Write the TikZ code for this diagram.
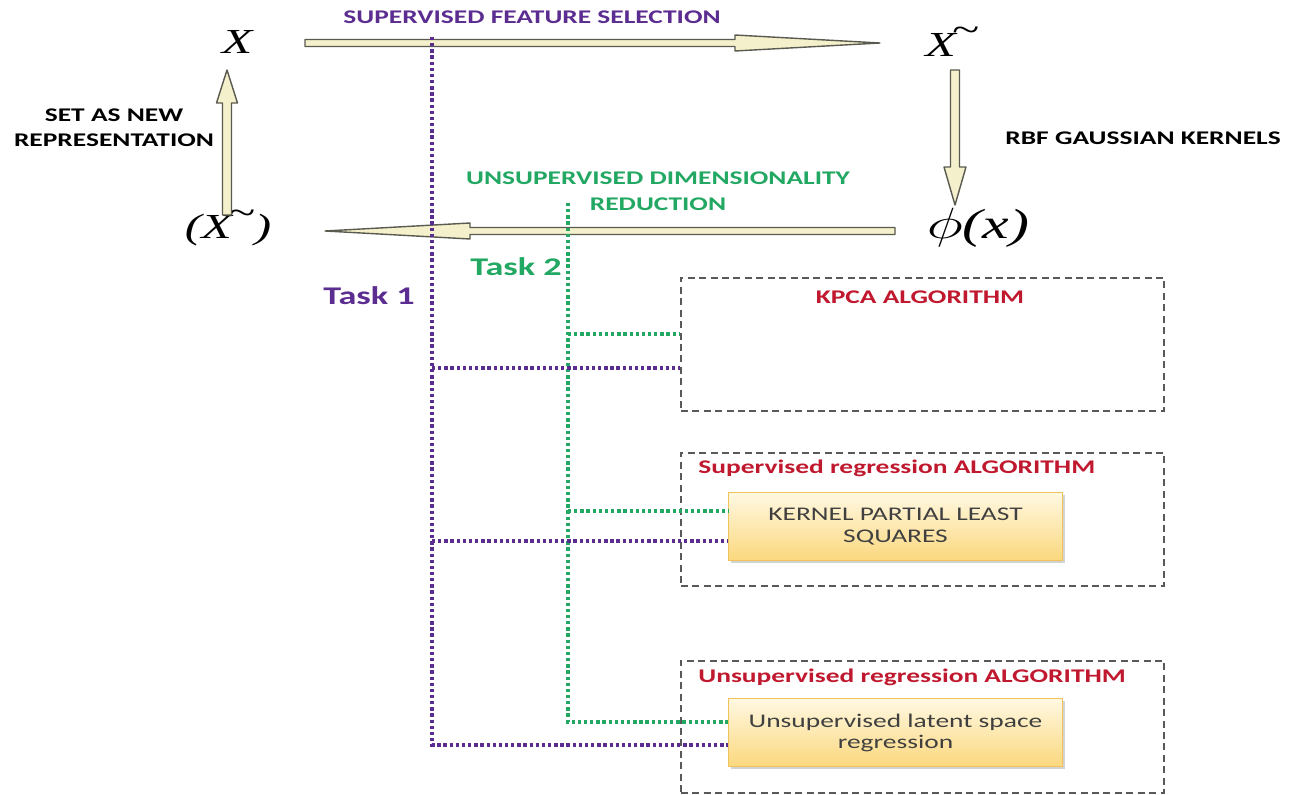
\documentclass[tikz,border=0pt]{standalone}
\usepackage{graphicx}
\usepackage{fontspec}
\setmainfont[FakeStretch=1.42]{Carlito}
\newfontfamily\tms[FakeStretch=1.42]{Liberation Serif}
\usetikzlibrary{calc,positioning,shadows}

\definecolor{purp}{HTML}{5C2D91}
\definecolor{grn}{HTML}{22A862}
\definecolor{drkred}{HTML}{C0182E}
\definecolor{cream}{HTML}{F4F0CB}
\definecolor{arrline}{HTML}{5A5A50}
\definecolor{boxtop}{HTML}{FFF8E2}
\definecolor{boxbot}{HTML}{FBD87E}
\definecolor{boxline}{HTML}{EFC35A}

\newcommand\tl{\kern-0.12em\raisebox{0.42em}{\char"007E}}

\tikzset{
  fatarr/.style={draw=arrline, fill=cream, line width=0.8pt, line join=round},
  sym/.style={font=\tms\itshape\fontsize{20}{22}\selectfont, inner sep=0pt},
  lbl/.style={font=\bfseries\fontsize{11}{13}\selectfont, align=center, inner sep=0pt},
  tasklbl/.style={font=\bfseries\fontsize{14.5}{17}\selectfont, inner sep=0pt},
  task1/.style={draw=purp, line width=2pt, dash pattern=on 1.9pt off 1.6pt},
  task2/.style={draw=grn, line width=2pt, dash pattern=on 1.9pt off 1.6pt},
  algbox/.style={draw=black!65, line width=1pt, dash pattern=on 4pt off 2.5pt,
    minimum width=9.66cm, minimum height=2.66cm, anchor=north west, inner sep=0pt},
  algtitle/.style={font=\bfseries\fontsize{11}{13}\selectfont, text=drkred, inner sep=0pt},
  methbox/.style={draw=boxline, line width=0.6pt, top color=boxtop, bottom color=boxbot,
    drop shadow={shadow xshift=1.5pt, shadow yshift=-1.5pt, opacity=0.35},
    minimum width=6.68cm, minimum height=1.36cm, anchor=north west, align=center,
    text=black!75, font=\fontsize{11}{12}\selectfont}
}

% fat arrow: from, to, head length, shaft half width, head half width
\newcommand\fatarrow[5]{%
  \coordinate (neck) at ($(#2)!#3!(#1)$);
  \draw[fatarr] ($(#1)!#4!90:(#2)$) -- ($(neck)!#4!90:(#2)$) -- ($(neck)!#5!90:(#2)$)
    -- (#2) -- ($(neck)!#5!-90:(#2)$) -- ($(neck)!#4!-90:(#2)$) -- ($(#1)!#4!-90:(#2)$) -- cycle;}

\begin{document}
\begin{tikzpicture}[x=0.02cm, y=0.02cm]
  \useasboundingbox (0,0) rectangle (1297,-794);

  % Symbols
  \node[sym] (xin) at (237,-42) {X};
  \node[sym] (xtil) at (952,-42) {X\tl};
  \node[sym, font=\tms\itshape\fontsize{24}{26}\selectfont] (phi) at (978,-228)
    {\scalebox{1.42}[1]{$\phi$}(x)};
  \node[sym] (xbt) at (228,-228) {(X\tl)};

  % Arrows
  \coordinate (a1s) at (305,-43);  \coordinate (a1e) at (880,-43);
  \coordinate (a2s) at (955,-70);  \coordinate (a2e) at (955,-205);
  \coordinate (a3s) at (895,-231); \coordinate (a3e) at (325,-231);
  \coordinate (a4s) at (227,-215); \coordinate (a4e) at (227,-70);
  \fatarrow{a1s}{a1e}{2.9cm}{0.07cm}{0.16cm}
  \fatarrow{a2s}{a2e}{0.76cm}{0.09cm}{0.22cm}
  \fatarrow{a3s}{a3e}{2.9cm}{0.07cm}{0.16cm}
  \fatarrow{a4s}{a4e}{0.66cm}{0.09cm}{0.21cm}

  % Labels
  \node[lbl, text=purp] (sfs) at (532,-17) {SUPERVISED FEATURE SELECTION};
  \node[lbl] (setnew) at (114,-128) {SET AS NEW\\[1pt]REPRESENTATION};
  \node[lbl] (rbf) at (1143,-138) {RBF GAUSSIAN KERNELS};
  \node[lbl, text=grn] (udr) at (658,-191) {UNSUPERVISED DIMENSIONALITY\\[2pt]REDUCTION};
  \node[tasklbl, text=purp] (task1) at (369,-296) {Task 1};
  \node[tasklbl, text=grn] (task2) at (516,-267) {Task 2};

  % Algorithm boxes
  \node[algbox] (kpca) at (680,-277) {};
  \node[algbox] (suprg) at (680,-452) {};
  \node[algbox, minimum height=2.64cm] (unsrg) at (680,-660) {};
  \node[algtitle] (kpcat) at (920,-297) {KPCA ALGORITHM};
  \node[algtitle, anchor=west] (suprgt) at (698,-468) {Supervised regression ALGORITHM};
  \node[algtitle, anchor=west] (unsrgt) at (698,-677) {Unsupervised regression ALGORITHM};
  \node[methbox] (kpls) at (728,-492) {KERNEL PARTIAL LEAST\\SQUARES};
  \node[methbox] (ulsr) at (728,-698) {Unsupervised latent space\\regression};

  % Task 2 lines
  \coordinate (t2) at (568,-203);
  \draw[task2] (t2) |- (ulsr.west |- 0,-722);
  \draw[task2] (t2 |- 0,-334) -- (kpca.west |- 0,-334);
  \draw[task2] (t2 |- 0,-511) -- (kpls.west |- 0,-511);

  % Task 1 lines
  \coordinate (t1) at (432,-37);
  \draw[task1] (t1) |- (ulsr.west |- 0,-745);
  \draw[task1] (t1 |- 0,-368) -- (kpca.west |- 0,-368);
  \draw[task1] (t1 |- 0,-541) -- (kpls.west |- 0,-541);
\end{tikzpicture}
\end{document}
